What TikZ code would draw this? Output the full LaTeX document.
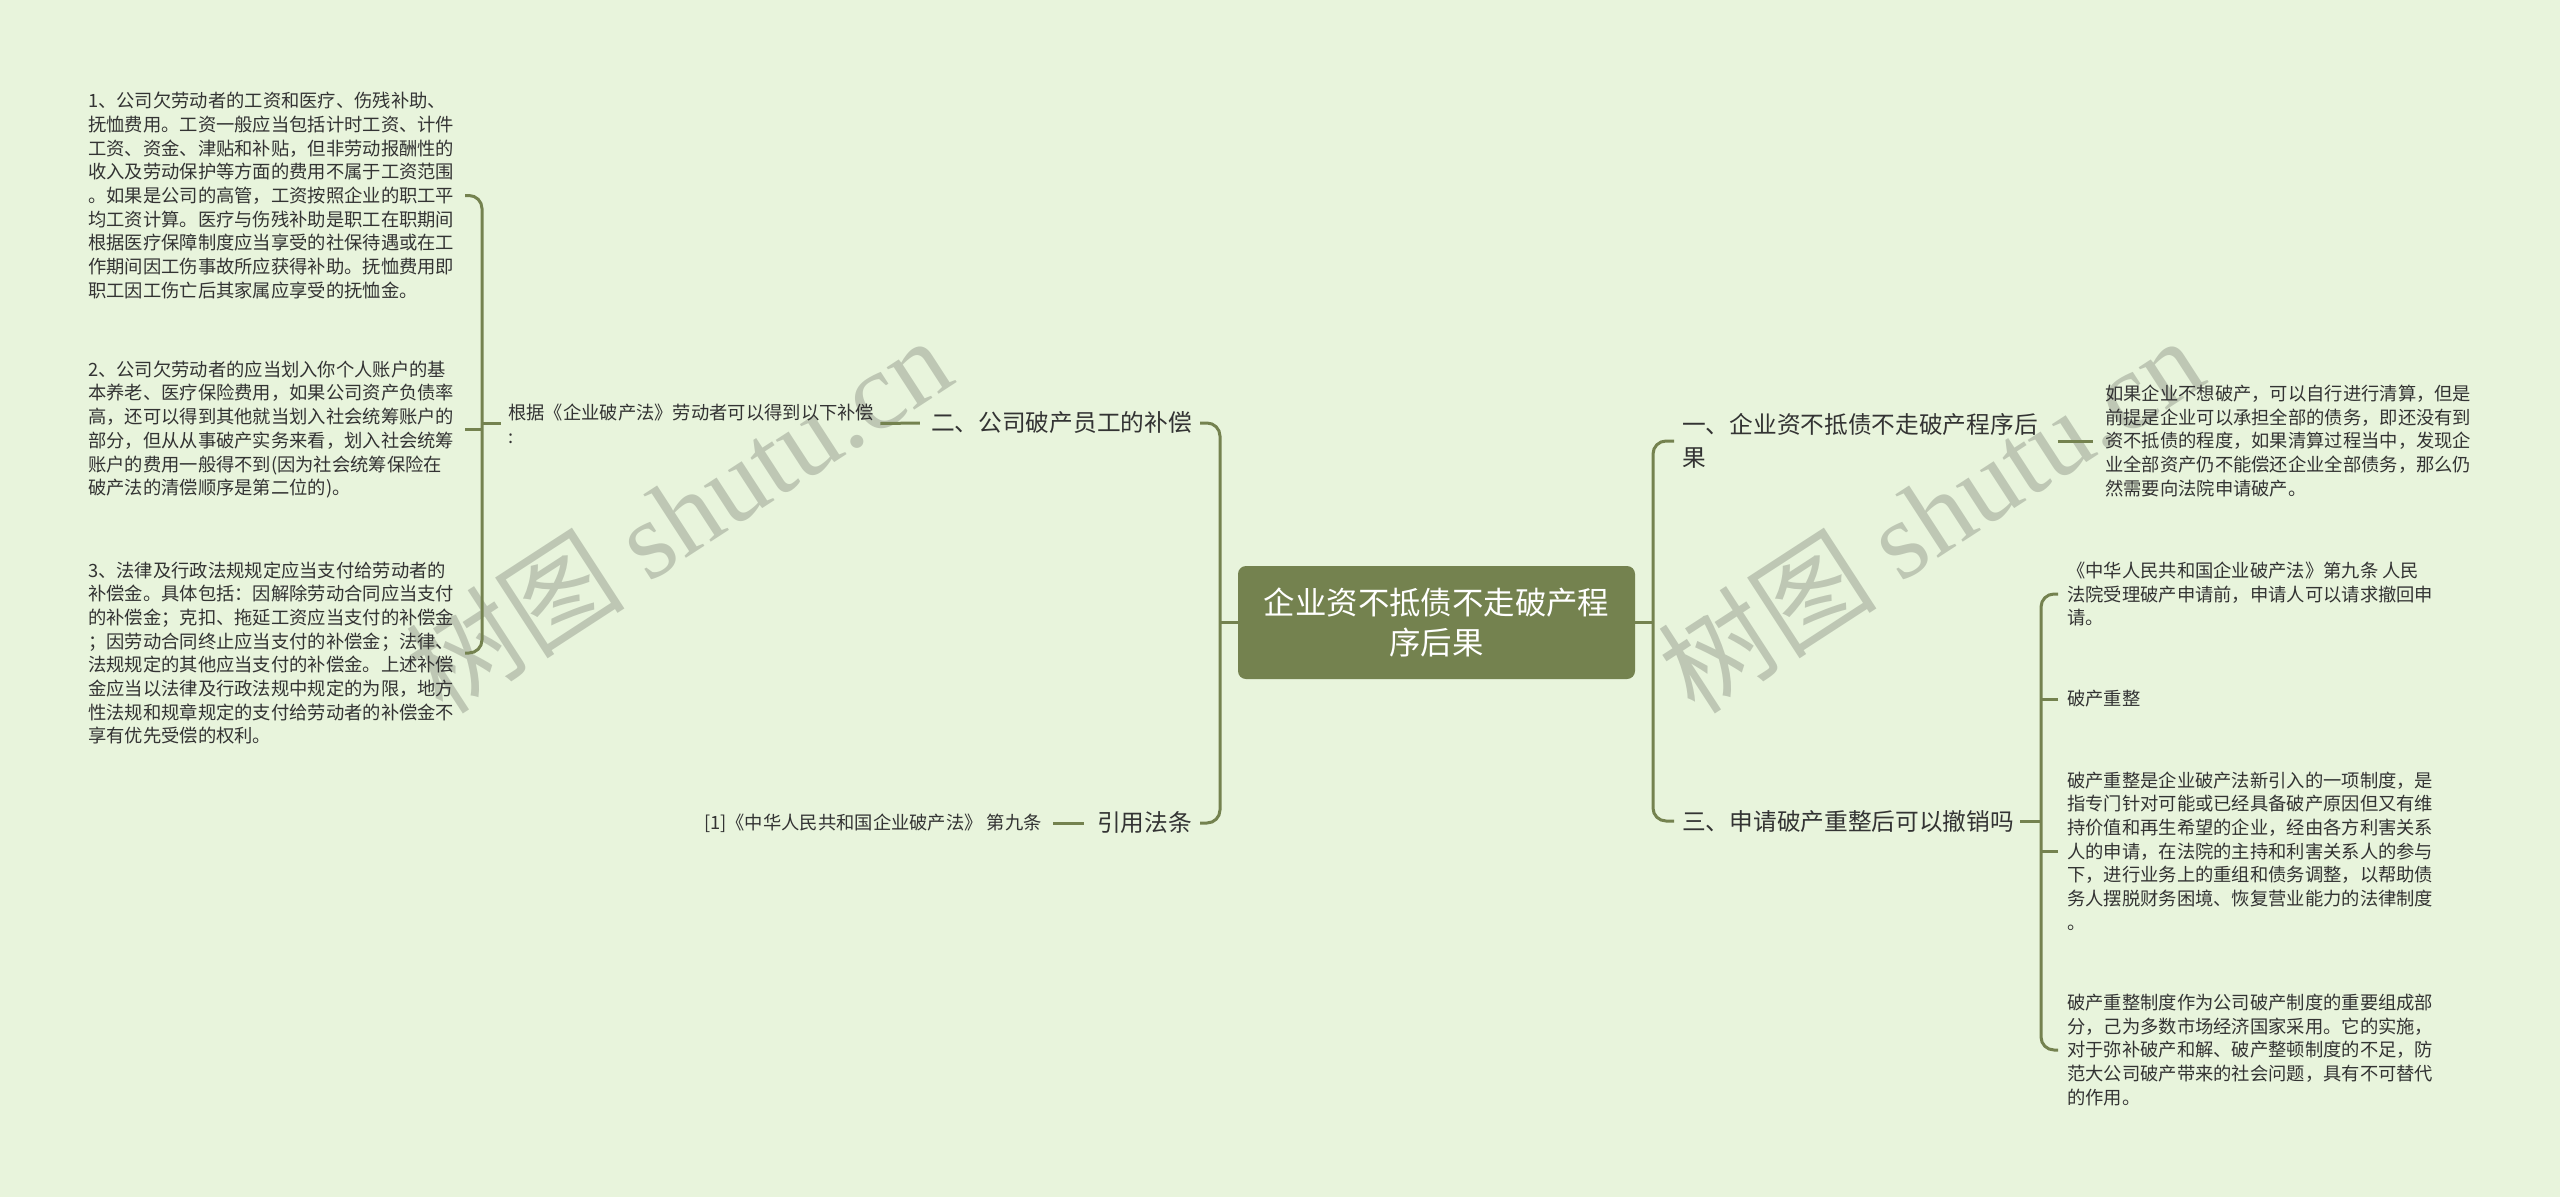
\documentclass[tikz,border=0pt]{standalone}
\usepackage{fontspec}
\setmainfont{Noto Sans CJK SC}
\newfontfamily\wmserif{Liberation Serif}
\definecolor{bg}{HTML}{E8F4DC}
\definecolor{olive}{HTML}{74824F}
\definecolor{txt}{HTML}{333333}
\tikzset{
 conn/.style={draw=olive, line width=3pt},
 leaf/.style={inner sep=0pt, align=left, text=txt, font=\fontsize{18.3}{23.7}\selectfont},
 branch/.style={inner sep=0pt, align=left, text=txt, font=\fontsize{23.7}{33}\selectfont},
 rootbox/.style={fill=olive, rounded corners=8pt, text=white, align=center, minimum width=397pt, minimum height=113pt, inner sep=0pt, font=\fontsize{31.4}{40}\selectfont},
 wm/.style={text=black, opacity=0.18, rotate=33, inner sep=0pt, font=\fontsize{110}{110}\selectfont}
}
\begin{document}
\begin{tikzpicture}[x=1pt,y=-1pt]
\fill[bg] (0,0) rectangle (2560,1197);
\useasboundingbox (0,0) rectangle (2560,1197);

% watermarks
\node[wm] (wm1) at (678,514) {树图 {\wmserif shutu.cn}};
\node[wm] (wm2) at (1930,514) {树图 {\wmserif shutu.cn}};

% root
\node[rootbox] (root) at (1436.5,622.5) {企业资不抵债不走破产程\\序后果};

% left branches
\node[branch, anchor=east] (b1) at (1192,423) {二、公司破产员工的补偿};
\node[branch, anchor=east] (b2) at (1192,823) {引用法条};

% right branches
\node[branch, anchor=west] (r1) at (1682,441) {一、企业资不抵债不走破产程序后\\果};
\node[branch, anchor=west] (r3) at (1682,821) {三、申请破产重整后可以撤销吗};

% left leaves
\node[leaf, anchor=west] (l1) at (508,423.5) {根据《企业破产法》劳动者可以得到以下补偿\\:};
\node[leaf, anchor=east] (l2) at (1042,823) {[1]《中华人民共和国企业破产法》 第九条};

\node[leaf, anchor=west] (c1) at (88,195.5) {1、公司欠劳动者的工资和医疗、伤残补助、\\抚恤费用。工资一般应当包括计时工资、计件\\工资、资金、津贴和补贴，但非劳动报酬性的\\收入及劳动保护等方面的费用不属于工资范围\\。如果是公司的高管，工资按照企业的职工平\\均工资计算。医疗与伤残补助是职工在职期间\\根据医疗保障制度应当享受的社保待遇或在工\\作期间因工伤事故所应获得补助。抚恤费用即\\职工因工伤亡后其家属应享受的抚恤金。};
\node[leaf, anchor=west] (c2) at (88,429.5) {2、公司欠劳动者的应当划入你个人账户的基\\本养老、医疗保险费用，如果公司资产负债率\\高，还可以得到其他就当划入社会统筹账户的\\部分，但从从事破产实务来看，划入社会统筹\\账户的费用一般得不到(因为社会统筹保险在\\破产法的清偿顺序是第二位的)。};
\node[leaf, anchor=west] (c3) at (88,653) {3、法律及行政法规规定应当支付给劳动者的\\补偿金。具体包括：因解除劳动合同应当支付\\的补偿金；克扣、拖延工资应当支付的补偿金\\；因劳动合同终止应当支付的补偿金；法律、\\法规规定的其他应当支付的补偿金。上述补偿\\金应当以法律及行政法规中规定的为限，地方\\性法规和规章规定的支付给劳动者的补偿金不\\享有优先受偿的权利。};

% right leaves
\node[leaf, anchor=west] (rl1) at (2105,441) {如果企业不想破产，可以自行进行清算，但是\\前提是企业可以承担全部的债务，即还没有到\\资不抵债的程度，如果清算过程当中，发现企\\业全部资产仍不能偿还企业全部债务，那么仍\\然需要向法院申请破产。};

\node[leaf, anchor=west] (d1) at (2067,594) {《中华人民共和国企业破产法》第九条 人民\\法院受理破产申请前，申请人可以请求撤回申\\请。};
\node[leaf, anchor=west] (d2) at (2067,699) {破产重整};
\node[leaf, anchor=west] (d3) at (2067,851) {破产重整是企业破产法新引入的一项制度，是\\指专门针对可能或已经具备破产原因但又有维\\持价值和再生希望的企业，经由各方利害关系\\人的申请，在法院的主持和利害关系人的参与\\下，进行业务上的重组和债务调整，以帮助债\\务人摆脱财务困境、恢复营业能力的法律制度\\。};
\node[leaf, anchor=west] (d4) at (2067,1050) {破产重整制度作为公司破产制度的重要组成部\\分，己为多数市场经济国家采用。它的实施，\\对于弥补破产和解、破产整顿制度的不足，防\\范大公司破产带来的社会问题，具有不可替代\\的作用。};

% spine coordinates
\coordinate (lspine) at (1220,622.5);
\coordinate (rspine) at (1653,622.5);
\coordinate (lbx) at (465,0);
\coordinate (lbs) at (482,0);
\coordinate (rbx) at (2058,0);
\coordinate (rbs) at (2041,0);

% root connectors
\draw[conn] (lspine) -- (root.west);
\draw[conn] (rspine) -- (root.east);
\draw[conn, rounded corners=13pt] ([xshift=8]b1.east) -| (lspine) |- ([xshift=8]b2.east);
\draw[conn, rounded corners=13pt] ([xshift=-8]r1.west) -| (rspine) |- ([xshift=-8]r3.west);

% branch to leaf
\draw[conn] ([xshift=-11]b1.west) -- ([xshift=6]l1.east);
\draw[conn] ([xshift=-13]b2.west) -- ([xshift=11]l2.east);
\draw[conn] ([xshift=20]r1.east |- rl1.west) -- ([xshift=-12]rl1.west);

% left bracket
\draw[conn, rounded corners=13pt] (lbx |- c1.west) -| (lbs |- l1.west) |- (lbx |- c3.west);
\draw[conn] (lbx |- c2.west) -- (lbs |- c2.west);
\draw[conn] (lbs |- l1.west) -- ([xshift=-7]l1.west);

% right bracket
\draw[conn, rounded corners=13pt] (rbx |- d1.west) -| (rbs |- r3.east) |- (rbx |- d4.west);
\draw[conn] (rbx |- d2.west) -- (rbs |- d2.west);
\draw[conn] (rbx |- d3.west) -- (rbs |- d3.west);
\draw[conn] ([xshift=6]r3.east) -- (rbs |- r3.east);
\end{tikzpicture}
\end{document}
